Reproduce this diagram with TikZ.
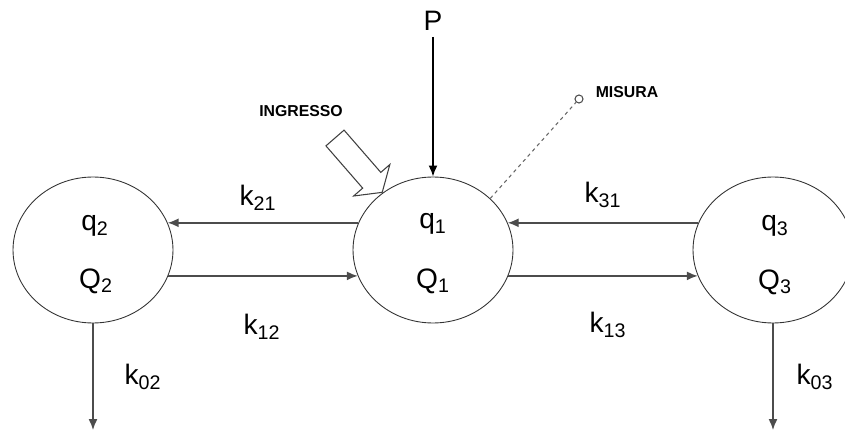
\documentclass[tikz,border=0pt]{standalone}
\usepackage{fontspec}
\setmainfont{Liberation Sans}
\usepackage{xcolor}
\usetikzlibrary{positioning,calc,arrows.meta,shapes.geometric}

\begin{document}
\begin{tikzpicture}[
    x=0.02cm, y=0.02cm,
    comp/.style={ellipse, draw=black!80, line width=0.5pt, minimum width=3.2cm, minimum height=2.92cm, inner sep=0pt},
    lbl/.style={font=\fontsize{16}{19}\selectfont},
    tag/.style={font=\fontsize{9}{11}\selectfont\bfseries},
    flow/.style={draw=black!70, line width=0.8pt, -{Latex[length=2.2mm, width=1.8mm]}},
    pin/.style={draw=black, line width=1pt, -{Latex[length=2.2mm, width=1.8mm]}},
    probe/.style={draw=black!60, line width=0.6pt, dash pattern=on 2pt off 2pt},
]
\useasboundingbox (0,0) rectangle (845,433);

% =====================================================================
% Compartments
% =====================================================================
\node[comp] (c2) at (93,183) {};
\node[comp] (c1) at (433,183) {};
\node[comp] (c3) at (773,183) {};

\node[lbl] (q2) at (95,207) {q\textsubscript{2}};
\node[lbl] (Q2) at (96,152) {Q\textsubscript{2}};
\node[lbl] (q1) at (433,209) {q\textsubscript{1}};
\node[lbl] (Q1) at (433,152) {Q\textsubscript{1}};
\node[lbl] (q3) at (775,207) {q\textsubscript{3}};
\node[lbl] (Q3) at (775,151) {Q\textsubscript{3}};

% =====================================================================
% Exchanges between compartments
% =====================================================================
\draw[flow] (c1.160) -- (c2.20);
\draw[flow] (c2.-19) -- (c1.199);
\draw[flow] (c3.160) -- (c1.20);
\draw[flow] (c1.-19) -- (c3.199);

\node[lbl] (k21) at (258,235) {k\textsubscript{21}};
\node[lbl] (k12) at (262,106) {k\textsubscript{12}};
\node[lbl] (k31) at (603,238) {k\textsubscript{31}};
\node[lbl] (k13) at (608,108) {k\textsubscript{13}};

% Elimination
\coordinate (out2) at (93,3);
\coordinate (out3) at (773,3);
\draw[flow] (c2.south) -- (out2);
\draw[flow] (c3.south) -- (out3);
\node[lbl] (k02) at (143,56) {k\textsubscript{02}};
\node[lbl] (k03) at (815,56) {k\textsubscript{03}};

% =====================================================================
% Input P, ingresso and misura
% =====================================================================
\node[lbl] (P) at (433,412) {P};
\draw[pin] (P) -- (c1.north);

\node[tag] (ingr) at (301,322) {INGRESSO};
\begin{scope}[shift={(335,295)}, rotate=-49]
\draw[black!75, line width=0.6pt, fill=white]
    (0,12) -- (56,12) -- (56,24) -- (72,0) -- (56,-24) -- (56,-12) -- (0,-12) -- cycle;
\end{scope}

\node[circle, draw=black!70, line width=0.6pt, inner sep=0pt, minimum size=0.16cm] (mis) at (579,334) {};
\draw[probe] (c1.42) -- (mis);
\node[tag] (misura) at (627,341) {MISURA};

\end{tikzpicture}
\end{document}
